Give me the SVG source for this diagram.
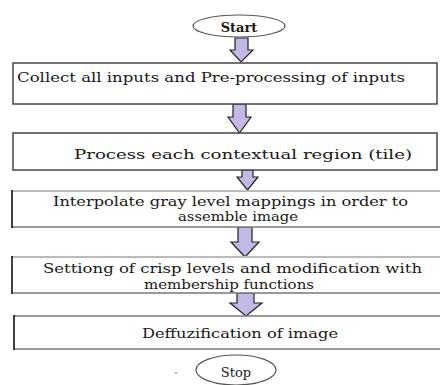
<svg xmlns="http://www.w3.org/2000/svg" width="440" height="385" viewBox="0 0 440 385">
<style>
text{font-family:"DejaVu Serif","Liberation Serif",serif;fill:#1a1616;font-size:13px}
.term{fill:#fff;stroke:#555;stroke-width:1.2}
.box{fill:#fff;stroke:#444;stroke-width:1.5}
.tb{stroke:#bbb;stroke-width:2.2}
.bb{stroke:#777;stroke-width:1.4}
.lb{stroke:#111;stroke-width:1.6}
.arr{fill:#c3b8e6;stroke:#222;stroke-width:1.2;stroke-linejoin:miter}
</style>
<rect width="440" height="385" fill="#fff"/>
<g id="connectors">
<path class="arr" d="M235,38 H248 V50 H253 L241,62 L230,50 H235 Z"/>
<path class="arr" d="M233,104 H246 V117 H251 L239.5,133 L228,117 H233 Z"/>
<path class="arr" d="M242,170 H253 V177 H258 L247.5,190 L237,177 H242 Z"/>
<path class="arr" d="M238,227 H252 V242 H259 L245,257 L231,242 H238 Z"/>
<path class="arr" d="M237,293 H254 V303 H262 L246,316 L230,303 H237 Z"/>
</g>
<g id="start">
<ellipse class="term" cx="239" cy="26" rx="46" ry="11"/>
<text x="239" y="32" text-anchor="middle" font-size="16" font-weight="bold">Start</text>
</g>
<g id="collect">
<rect class="box" x="13" y="63" width="424" height="41"/>
<text x="17" y="82" textLength="388" lengthAdjust="spacingAndGlyphs">Collect all inputs and Pre-processing of inputs</text>
</g>
<g id="process">
<rect class="box" x="13" y="133" width="424" height="37"/>
<text x="74" y="159" font-size="14" textLength="338" lengthAdjust="spacingAndGlyphs">Process each contextual region (tile)</text>
</g>
<g id="interpolate">
<rect x="12" y="191" width="430" height="36" fill="#fff"/>
<line class="tb" x1="12" y1="191" x2="440" y2="191"/>
<line class="bb" x1="12" y1="227" x2="440" y2="227"/>
<line class="lb" x1="12" y1="190" x2="12" y2="228"/>
<text x="53" y="206" textLength="355" lengthAdjust="spacingAndGlyphs">Interpolate gray level mappings in order to</text>
<text x="178" y="221" textLength="120" lengthAdjust="spacingAndGlyphs">assemble image</text>
</g>
<g id="settiong">
<rect x="12" y="257" width="430" height="36" fill="#fff"/>
<line class="tb" x1="12" y1="257" x2="440" y2="257"/>
<line class="bb" x1="12" y1="293" x2="440" y2="293"/>
<line class="lb" x1="12" y1="256" x2="12" y2="294"/>
<text x="43" y="273" textLength="379" lengthAdjust="spacingAndGlyphs">Settiong of crisp levels and modification with</text>
<text x="144" y="289" textLength="170" lengthAdjust="spacingAndGlyphs">membership functions</text>
</g>
<g id="deffuzification">
<rect x="14" y="316" width="428" height="33" fill="#fff"/>
<line class="bb" x1="14" y1="316" x2="440" y2="316"/>
<line class="bb" x1="14" y1="349" x2="440" y2="349"/>
<line class="lb" x1="14" y1="315" x2="14" y2="350"/>
<text x="142" y="338" textLength="196" lengthAdjust="spacingAndGlyphs">Deffuzification of image</text>
</g>
<g id="stop">
<ellipse class="term" cx="236" cy="370" rx="40" ry="15"/>
<text x="236" y="377" text-anchor="middle" font-size="18">Stop</text>
<circle cx="176" cy="373" r="0.8" fill="#555"/>
</g>
</svg>
